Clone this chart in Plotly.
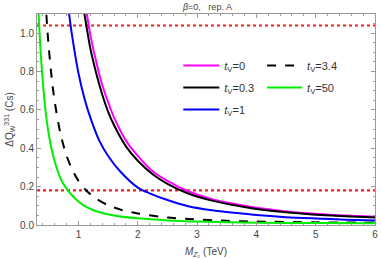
import plotly.graph_objects as go

# Data
m_t0 = [1.10, 1.20, 1.30, 1.40, 1.50, 1.60, 1.80, 2.00, 2.25, 2.50, 2.85, 3.25, 3.68, 4.00, 4.50, 5.00, 5.50, 6.00]
q_t0 = [1.18, 0.99, 0.85, 0.73, 0.64, 0.56, 0.44, 0.36, 0.28, 0.23, 0.176, 0.135, 0.107, 0.090, 0.071, 0.058, 0.049, 0.043]

m_t03 = [1.05, 1.10, 1.20, 1.30, 1.40, 1.50, 1.60, 1.80, 2.00, 2.25, 2.50, 2.85, 3.25, 3.68, 4.00, 4.50, 5.00, 5.50, 6.00]
q_t03 = [1.20, 1.10, 0.92, 0.79, 0.68, 0.59, 0.52, 0.41, 0.335, 0.265, 0.215, 0.164, 0.127, 0.100, 0.084, 0.066, 0.054, 0.045, 0.039]

m_t1 = [0.80, 0.85, 0.90, 1.00, 1.10, 1.20, 1.35, 1.50, 1.70, 2.00, 2.20, 2.50, 2.85, 3.25, 3.68, 4.00, 4.50, 5.00, 5.50, 6.00]
q_t1 = [1.22, 1.08, 0.97, 0.79, 0.66, 0.56, 0.44, 0.36, 0.28, 0.195, 0.165, 0.13, 0.098, 0.077, 0.062, 0.052, 0.041, 0.034, 0.028, 0.024]

m_t34 = [0.44, 0.47, 0.50, 0.55, 0.60, 0.70, 0.80, 0.90, 1.00, 1.13, 1.30, 1.50, 1.75, 2.00, 2.50, 2.85, 3.50, 4.00, 5.00, 6.00]
q_t34 = [1.19, 1.04, 0.92, 0.76, 0.64, 0.47, 0.36, 0.285, 0.23, 0.18, 0.137, 0.103, 0.076, 0.060, 0.039, 0.031, 0.022, 0.018, 0.014, 0.012]

m_t50 = [0.31, 0.33, 0.36, 0.40, 0.45, 0.50, 0.55, 0.60, 0.70, 0.82, 0.95, 1.10, 1.30, 1.60, 2.00, 2.50, 3.00, 4.00, 5.00, 6.00]
q_t50 = [1.23, 1.08, 0.91, 0.74, 0.58, 0.47, 0.39, 0.33, 0.24, 0.18, 0.135, 0.10, 0.072, 0.05, 0.035, 0.024, 0.018, 0.012, 0.010, 0.009]

bound_x = [0.3, 6.0]
bound_upper = 1.04
bound_lower = 0.18

labels = ["<i>t</i><sub>V</sub>=0", "<i>t</i><sub>V</sub>=0.3", "<i>t</i><sub>V</sub>=1",
          "<i>t</i><sub>V</sub>=3.4", "<i>t</i><sub>V</sub>=50"]

fig = go.Figure()

for b in [bound_upper, bound_lower]:
    fig.add_trace(go.Scatter(x=bound_x, y=[b, b], mode="lines", showlegend=False,
                             line=dict(color="#ff1a1a", width=2.2, dash="dot"), hoverinfo="skip"))

series = [
    (m_t0, q_t0, labels[0], "#ff00ff", "solid", "legend"),
    (m_t03, q_t03, labels[1], "black", "solid", "legend"),
    (m_t1, q_t1, labels[2], "#0000ff", "solid", "legend"),
    (m_t34, q_t34, labels[3], "black", "dash", "legend2"),
    (m_t50, q_t50, labels[4], "#00ee00", "solid", "legend2"),
]
for i, (mx, qy, name, col, dash, leg) in enumerate(series):
    fig.add_trace(go.Scatter(x=mx, y=qy, mode="lines", name=name, legend=leg, legendgroup=f"g{i}",
                             line=dict(color=col, width=2, dash=dash, shape="spline", smoothing=0.8)))

axis_common = dict(showgrid=False, zeroline=False, showline=True, linecolor="#9a9a9a", linewidth=1,
                   mirror="ticks", ticks="inside", ticklen=4, tickcolor="#9a9a9a",
                   tickfont=dict(family="Liberation Sans, Arial", size=10, color="#444"))

legend_font = dict(family="Liberation Sans, Arial", size=11, color="#333")

fig.update_layout(
    width=382, height=259,
    margin=dict(l=37, r=4, t=14, b=33),
    plot_bgcolor="white", paper_bgcolor="white",
    title=dict(text="<i>β</i>=0,   rep. A", x=0.543, xanchor="center", y=0.985, yanchor="top",
               font=dict(family="Liberation Sans, Arial", size=9, color="#444")),
    xaxis=dict(range=[0.3, 6.0], dtick=1, tick0=0,
               minor=dict(dtick=0.2, ticks="inside", ticklen=2, tickcolor="#9a9a9a"),
               title=dict(text="<i>M</i><sub><i>Z</i>₂</sub> (TeV)", standoff=8,
                          font=dict(family="Liberation Sans, Arial", size=10, color="#444")),
               **axis_common),
    yaxis=dict(range=[0, 1.1], dtick=0.2, tickformat=".1f",
               minor=dict(dtick=0.05, ticks="inside", ticklen=2, tickcolor="#9a9a9a"),
               title=dict(text="ΔQ<sub>W</sub><sup>331</sup> (Cs)", standoff=4,
                          font=dict(family="Liberation Sans, Arial", size=10, color="#444")),
               **axis_common),
    legend=dict(x=0.418, y=0.825, xanchor="left", yanchor="top", bgcolor="rgba(0,0,0,0)",
                font=legend_font, tracegroupgap=3, itemwidth=36),
    legend2=dict(x=0.666, y=0.825, xanchor="left", yanchor="top", bgcolor="rgba(0,0,0,0)",
                 font=legend_font, tracegroupgap=3, itemwidth=35),
)

fig.write_html("out.html", config={"displayModeBar": False},
               post_script="document.body.style.margin='0';document.body.style.overflow='hidden';")
